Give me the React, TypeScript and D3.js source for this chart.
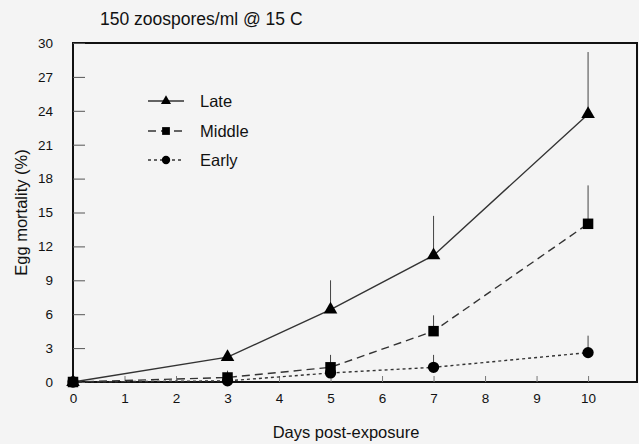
import { useRef, useEffect } from 'react';
import * as d3 from 'd3';

const days = [0, 3, 5, 7, 10];
const lateValues = [0, 2.2, 6.4, 11.2, 23.7];
const lateErrors = [0, 0, 2.6, 3.5, 5.5];
const middleValues = [0, 0.4, 1.3, 4.5, 14.0];
const middleErrors = [0, 0.6, 1.1, 1.4, 3.4];
const earlyValues = [0, 0.1, 0.8, 1.3, 2.6];
const earlyErrors = [0, 0, 0, 1.1, 1.5];
const xTicks = [0, 1, 2, 3, 4, 5, 6, 7, 8, 9, 10];
const yTicks = [0, 3, 6, 9, 12, 15, 18, 21, 24, 27, 30];
const seriesNames = ['Late', 'Middle', 'Early'];

export default function App() {
  const svgRef = useRef(null);

  useEffect(() => {
    const svg = d3.select(svgRef.current);
    svg.selectAll('*').remove();

    const width = 639;
    const height = 444;
    const margin = { top: 43, right: 2, bottom: 62, left: 73 };
    const font = '"Liberation Sans", Arial, sans-serif';

    svg.append('rect').attr('width', width).attr('height', height).attr('fill', '#f4f4f4');

    const x = d3.scaleLinear().domain([0, 10.95]).range([margin.left, width - margin.right]);
    const y = d3.scaleLinear().domain([0, 30]).range([height - margin.bottom, margin.top]);

    // frame
    svg
      .append('rect')
      .attr('x', x(0))
      .attr('y', y(30))
      .attr('width', x(10.95) - x(0))
      .attr('height', y(0) - y(30))
      .attr('fill', 'none')
      .attr('stroke', '#111')
      .attr('stroke-width', 2);

    // y axis
    const yAxis = d3
      .axisLeft(y)
      .tickValues(yTicks)
      .tickSize(-12)
      .tickPadding(20);
    const gy = svg.append('g').attr('transform', `translate(${x(0)},0)`).call(yAxis);
    gy.select('.domain').remove();
    gy.selectAll('line').attr('stroke', '#555').attr('stroke-width', 1);
    gy.selectAll('text')
      .attr('font-family', font)
      .attr('font-size', 13.5)
      .attr('fill', '#111');

    // x axis
    const xAxis = d3
      .axisBottom(x)
      .tickValues(xTicks)
      .tickSize(-6)
      .tickPadding(11);
    const gx = svg.append('g').attr('transform', `translate(0,${y(0)})`).call(xAxis);
    gx.select('.domain').remove();
    gx.selectAll('line').attr('stroke', '#777').attr('stroke-width', 1);
    gx.selectAll('text')
      .attr('font-family', font)
      .attr('font-size', 13.5)
      .attr('fill', '#111');

    // titles
    svg
      .append('text')
      .attr('x', 100)
      .attr('y', 25)
      .attr('font-family', font)
      .attr('font-size', 17.5)
      .attr('fill', '#111')
      .text('150 zoospores/ml @ 15 C');
    svg
      .append('text')
      .attr('x', 346)
      .attr('y', 438)
      .attr('text-anchor', 'middle')
      .attr('font-family', font)
      .attr('font-size', 16.5)
      .attr('fill', '#111')
      .text('Days post-exposure');
    svg
      .append('text')
      .attr('transform', `translate(27,${(y(0) + y(30)) / 2}) rotate(-90)`)
      .attr('text-anchor', 'middle')
      .attr('font-family', font)
      .attr('font-size', 16.5)
      .attr('fill', '#111')
      .text('Egg mortality (%)');

    const series = [
      { name: 'Late', values: lateValues, errors: lateErrors, dash: null, symbol: d3.symbolTriangle, size: 80 },
      { name: 'Middle', values: middleValues, errors: middleErrors, dash: '8,5', symbol: d3.symbolSquare, size: 110 },
      { name: 'Early', values: earlyValues, errors: earlyErrors, dash: '3,3', symbol: d3.symbolCircle, size: 100 },
    ];

    const line = d3
      .line()
      .x((d) => x(d[0]))
      .y((d) => y(d[1]));

    series.forEach((s) => {
      const pts = days.map((d, i) => [d, s.values[i], s.errors[i]]);
      const g = svg.append('g');
      // error bars
      g.selectAll('.err')
        .data(pts.filter((p) => p[2] > 0))
        .enter()
        .append('line')
        .attr('x1', (p) => x(p[0]))
        .attr('x2', (p) => x(p[0]))
        .attr('y1', (p) => y(p[1]))
        .attr('y2', (p) => y(p[1] + p[2]))
        .attr('stroke', '#444')
        .attr('stroke-width', 1);
      g.append('path')
        .attr('d', line(pts))
        .attr('fill', 'none')
        .attr('stroke', '#333')
        .attr('stroke-width', 1.4)
        .attr('stroke-dasharray', s.dash);
      g.selectAll('.pt')
        .data(pts)
        .enter()
        .append('path')
        .attr('d', d3.symbol().type(s.symbol).size(s.size))
        .attr('transform', (p) => `translate(${x(p[0])},${y(p[1])})`)
        .attr('fill', '#000');
    });

    // legend
    const legendY = [101, 131, 160];
    series.forEach((s, i) => {
      const g = svg.append('g').attr('transform', `translate(148,${legendY[i]})`);
      g.append('line')
        .attr('x1', 0)
        .attr('x2', 36)
        .attr('stroke', '#333')
        .attr('stroke-width', 1.4)
        .attr('stroke-dasharray', s.dash);
      g.append('path')
        .attr('d', d3.symbol().type(s.symbol).size(s.size * 0.55))
        .attr('transform', 'translate(18,0)')
        .attr('fill', '#000');
      g.append('text')
        .attr('x', 52)
        .attr('y', 6)
        .attr('font-family', font)
        .attr('font-size', 16.5)
        .attr('fill', '#111')
        .text(seriesNames[i]);
    });
  }, []);

  return (
    <svg
      ref={svgRef}
      width={639}
      height={444}
      style={{ position: 'fixed', top: 0, left: 0, display: 'block' }}
    />
  );
}
